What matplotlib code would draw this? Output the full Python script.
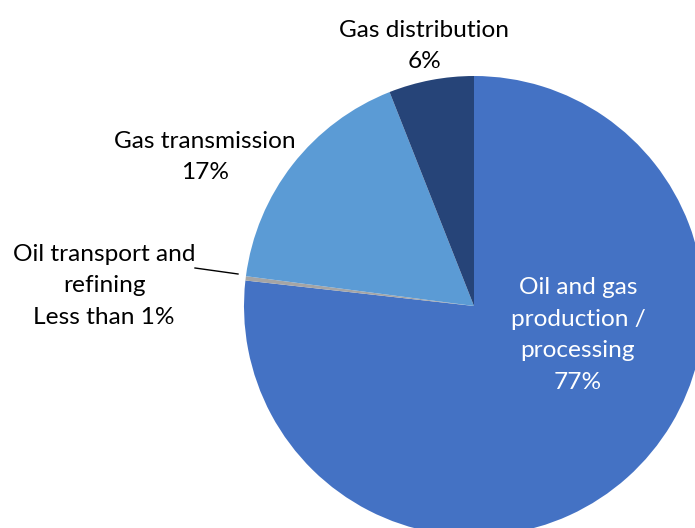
import matplotlib
matplotlib.use("Agg")
import matplotlib.pyplot as plt

plt.rcParams['font.family'] = ['Lato', 'DejaVu Sans']

# emission share by segment, clockwise from 12 o'clock
segments = ["Oil and gas production / processing", "Oil transport and refining",
            "Gas transmission", "Gas distribution"]
shares = [77, 0.3, 17, 6]
colors = ["#4472C4", "#A5A5A5", "#5B9BD5", "#264478"]

W, H = 695, 528
cx, cy, r = 474, 306, 230  # pie centre and radius in pixels


def px(x, y):
    # pixel position -> data coords (pie radius = 1)
    return (x - cx) / r, (cy - y) / r


fig = plt.figure(figsize=(W / 100, H / 100), dpi=100)
ax = fig.add_axes([0, 0, 1, 1])
ax.pie(shares, colors=colors, startangle=90, counterclock=False, radius=1,
       wedgeprops=dict(linewidth=0))
ax.set_xlim(-cx / r, (W - cx) / r)
ax.set_ylim(-(H - cy) / r, cy / r)
ax.set_aspect('equal')
ax.axis('off')

fs = 17.6
ls = 1.63
ax.text(*px(424, 46), "Gas distribution\n6%", ha='center', va='center',
        fontsize=fs, linespacing=ls)
ax.text(*px(205, 157), "Gas transmission\n17%", ha='center', va='center',
        fontsize=fs, linespacing=ls)
ax.text(*px(104, 286), "Oil transport and\nrefining\nLess than 1%", ha='center',
        va='center', fontsize=fs, linespacing=ls)
ax.text(*px(578, 335), "Oil and gas\nproduction /\nprocessing\n77%", ha='center',
        va='center', fontsize=fs, linespacing=ls, color='white')

# leader line for the thin slice
x0, y0 = px(195, 268)
x1, y1 = px(238, 274)
ax.plot([x0, x1], [y0, y1], color='black', linewidth=1)

fig.savefig("out.png", dpi=100)
